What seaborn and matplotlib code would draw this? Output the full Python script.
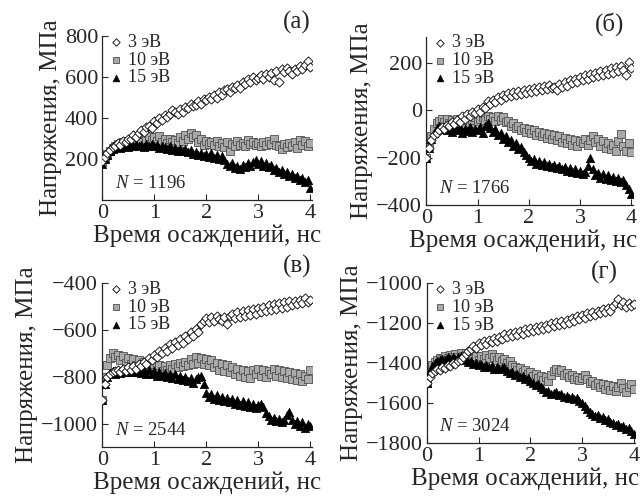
import numpy as np
import pandas as pd
import seaborn as sns
import matplotlib.pyplot as plt

# время осаждения, нс (шаг 0.05)
time_ns = [0.00, 0.05, 0.10, 0.15, 0.20, 0.25, 0.30, 0.35, 0.40, 0.45,
           0.50, 0.55, 0.60, 0.65, 0.70, 0.75, 0.80, 0.85, 0.90, 0.95,
           1.00, 1.05, 1.10, 1.15, 1.20, 1.25, 1.30, 1.35, 1.40, 1.45,
           1.50, 1.55, 1.60, 1.65, 1.70, 1.75, 1.80, 1.85, 1.90, 1.95,
           2.00, 2.05, 2.10, 2.15, 2.20, 2.25, 2.30, 2.35, 2.40, 2.45,
           2.50, 2.55, 2.60, 2.65, 2.70, 2.75, 2.80, 2.85, 2.90, 2.95,
           3.00, 3.05, 3.10, 3.15, 3.20, 3.25, 3.30, 3.35, 3.40, 3.45,
           3.50, 3.55, 3.60, 3.65, 3.70, 3.75, 3.80, 3.85, 3.90, 3.95,
           4.00]

# (а) N = 1196
a_3ev = [190, 210, 228, 245, 258, 262, 278, 270, 290, 285,
         300, 296, 315, 308, 325, 340, 330, 355, 362, 350,
         388, 375, 400, 392, 415, 405, 420, 440, 428, 418,
         445, 432, 455, 448, 470, 458, 465, 485, 470, 492,
         488, 505, 495, 512, 500, 525, 515, 535, 540, 528,
         552, 545, 560, 548, 575, 565, 590, 578, 600, 585,
         598, 610, 592, 615, 600, 620, 585, 630, 575, 640,
         625, 645, 630, 615, 640, 628, 655, 640, 660, 680,
         650]
a_10ev = [185, 205, 225, 240, 255, 262, 275, 268, 282, 276,
          288, 280, 295, 285, 305, 295, 320, 300, 310, 295,
          305, 290, 310, 285, 298, 280, 300, 285, 295, 278,
          305, 290, 315, 300, 325, 305, 315, 285, 300, 270,
          290, 275, 285, 268, 290, 265, 280, 260, 285, 240,
          275, 265, 290, 270, 280, 265, 295, 275, 285, 270,
          280, 265, 285, 270, 290, 275, 300, 270, 265, 250,
          275, 260, 280, 265, 285, 255, 295, 270, 290, 265,
          280]
a_15ev = [175, 200, 220, 240, 250, 258, 262, 255, 265, 270,
          258, 272, 265, 275, 262, 270, 258, 272, 265, 275,
          262, 270, 255, 265, 258, 250, 262, 245, 255, 240,
          250, 238, 248, 232, 242, 225, 235, 220, 230, 215,
          225, 210, 228, 205, 220, 200, 215, 195, 175, 165,
          180, 155, 168, 150, 172, 160, 178, 165, 185, 195,
          175, 188, 165, 180, 160, 170, 145, 155, 135, 145,
          125, 135, 115, 125, 105, 115, 95, 105, 85, 95,
          60]

# (б) N = 1766
b_3ev = [-200, -160, -125, -105, -95, -85, -70, -78, -60, -68,
         -50, -58, -40, -48, -25, -35, -15, -25, -5, -12,
         5, -8, 15, 10, 38, 25, 45, 35, 55, 42,
         65, 55, 72, 60, 78, 65, 82, 70, 88, 75,
         90, 78, 95, 82, 100, 85, 102, 90, 108, 95,
         100, 88, 112, 98, 120, 105, 128, 115, 135, 120,
         140, 128, 148, 135, 155, 140, 160, 145, 165, 150,
         172, 155, 178, 160, 185, 165, 190, 170, 150, 205,
         180]
b_10ev = [-200, -150, -110, -80, -55, -45, -35, -50, -38, -55,
          -40, -52, -38, -60, -45, -58, -40, -55, -42, -30,
          -45, -35, -28, -40, -25, -38, -30, -45, -25, -40,
          -30, -50, -45, -65, -55, -75, -65, -85, -75, -90,
          -80, -95, -85, -105, -90, -110, -95, -115, -100, -120,
          -105, -125, -110, -135, -115, -140, -120, -145, -125, -150,
          -130, -140, -120, -145, -125, -110, -135, -120, -150, -130,
          -160, -140, -165, -145, -170, -130, -100, -150, -170, -140,
          -175]
b_15ev = [-200, -160, -120, -95, -75, -65, -80, -70, -85, -72,
          -90, -75, -85, -70, -95, -78, -88, -72, -92, -78,
          -85, -70, -95, -65, -55, -75, -90, -80, -105, -95,
          -120, -110, -135, -125, -150, -140, -165, -155, -175, -190,
          -200, -215, -205, -225, -215, -230, -220, -235, -225, -240,
          -230, -245, -235, -250, -240, -255, -245, -260, -250, -265,
          -255, -270, -260, -235, -200, -250, -275, -265, -285, -270,
          -290, -275, -295, -280, -300, -285, -305, -295, -315, -335,
          -355]

# (в) N = 2544
c_3ev = [-900, -830, -800, -790, -780, -775, -770, -780, -765, -775,
         -760, -770, -755, -765, -745, -755, -735, -745, -720, -730,
         -705, -715, -690, -700, -675, -690, -660, -675, -650, -665,
         -640, -655, -625, -640, -610, -625, -595, -610, -575, -560,
         -550, -565, -545, -560, -540, -555, -560, -545, -575, -540,
         -530, -550, -525, -545, -520, -540, -515, -535, -510, -530,
         -505, -525, -500, -520, -495, -515, -490, -510, -485, -505,
         -480, -500, -478, -495, -475, -490, -470, -485, -465, -480,
         -470]
c_10ev = [-900, -800, -750, -720, -700, -715, -705, -730, -710, -740,
          -720, -745, -725, -750, -730, -755, -735, -760, -740, -765,
          -745, -770, -750, -775, -755, -770, -750, -765, -745, -760,
          -740, -755, -735, -750, -725, -745, -715, -740, -720, -745,
          -725, -750, -730, -760, -740, -770, -745, -775, -750, -780,
          -760, -790, -765, -795, -770, -800, -775, -805, -770, -790,
          -765, -795, -770, -800, -775, -790, -765, -795, -770, -800,
          -775, -805, -780, -810, -785, -815, -790, -820, -795, -810,
          -770]
c_15ev = [-900, -830, -800, -785, -775, -790, -770, -785, -765, -780,
          -760, -778, -762, -780, -765, -785, -770, -790, -772, -790,
          -775, -795, -780, -798, -785, -800, -788, -805, -790, -808,
          -795, -812, -800, -820, -805, -825, -810, -800, -795, -830,
          -870, -885, -875, -895, -880, -900, -885, -905, -890, -910,
          -895, -915, -900, -920, -905, -925, -910, -930, -915, -935,
          -920, -915, -930, -955, -970, -985, -975, -990, -980, -995,
          -985, -965, -950, -985, -1000, -990, -1010, -995, -1020, -1000,
          -1010]

# (г) N = 3024
d_3ev = [-1500, -1470, -1450, -1440, -1430, -1435, -1420, -1425, -1410, -1415,
         -1400, -1405, -1390, -1385, -1370, -1355, -1340, -1330, -1315, -1325,
         -1300, -1310, -1290, -1305, -1285, -1295, -1275, -1290, -1270, -1280,
         -1255, -1270, -1250, -1265, -1245, -1260, -1240, -1255, -1230, -1245,
         -1225, -1240, -1220, -1235, -1215, -1230, -1210, -1225, -1200, -1215,
         -1195, -1210, -1190, -1205, -1185, -1200, -1175, -1190, -1165, -1180,
         -1160, -1175, -1150, -1165, -1145, -1160, -1140, -1150, -1130, -1145,
         -1125, -1140, -1115, -1100, -1080, -1110, -1095, -1120, -1100, -1115,
         -1105]
d_10ev = [-1500, -1440, -1410, -1395, -1385, -1375, -1380, -1365, -1375, -1360,
          -1370, -1355, -1368, -1352, -1365, -1350, -1370, -1358, -1380, -1365,
          -1385, -1365, -1380, -1360, -1375, -1355, -1370, -1385, -1370, -1390,
          -1380, -1400, -1390, -1410, -1420, -1435, -1425, -1445, -1435, -1455,
          -1445, -1465, -1455, -1475, -1465, -1485, -1470, -1490, -1460, -1440,
          -1430, -1445, -1435, -1460, -1450, -1470, -1460, -1480, -1470, -1485,
          -1475, -1460, -1480, -1500, -1490, -1510, -1500, -1520, -1505, -1530,
          -1510, -1535, -1515, -1540, -1520, -1500, -1525, -1545, -1520, -1505,
          -1530]
d_15ev = [-1500, -1440, -1415, -1400, -1390, -1385, -1378, -1385, -1372, -1380,
          -1368, -1378, -1370, -1365, -1375, -1385, -1395, -1390, -1405, -1398,
          -1410, -1405, -1418, -1410, -1422, -1415, -1428, -1420, -1432, -1425,
          -1418, -1440, -1450, -1445, -1460, -1455, -1470, -1465, -1480, -1475,
          -1490, -1500, -1510, -1505, -1520, -1530, -1545, -1540, -1555, -1550,
          -1545, -1560, -1555, -1570, -1565, -1575, -1570, -1580, -1575, -1590,
          -1600, -1615, -1630, -1645, -1655, -1665, -1660, -1675, -1670, -1685,
          -1680, -1695, -1700, -1710, -1705, -1720, -1715, -1730, -1725, -1740,
          -1755]

panels = [
    ("(а)", "1196", a_3ev, a_10ev, a_15ev, (0, 800), [200, 400, 600, 800]),
    ("(б)", "1766", b_3ev, b_10ev, b_15ev, (-400, 310), [-400, -200, 0, 200]),
    ("(в)", "2544", c_3ev, c_10ev, c_15ev, (-1100, -400), [-1000, -800, -600, -400]),
    ("(г)", "3024", d_3ev, d_10ev, d_15ev, (-1800, -1000), [-1800, -1600, -1400, -1200, -1000]),
]
# положение осей в долях фигуры: left, bottom, width, height
boxes = [(0.159, 0.597, 0.326, 0.330), (0.663, 0.587, 0.321, 0.338),
         (0.159, 0.099, 0.326, 0.330), (0.664, 0.107, 0.324, 0.322)]
tag_pos = [(0.93, 1.085), (0.89, 1.08), (0.93, 1.10), (0.85, 1.07)]
xlabel_x = [0.5, 0.47, 0.5, 0.47]

sns.set_style("ticks")
plt.rcParams['font.family'] = ['Liberation Serif', 'DejaVu Serif']
plt.rcParams['mathtext.fontset'] = 'custom'
plt.rcParams['mathtext.it'] = 'Liberation Serif:italic'

fig = plt.figure(figsize=(6.43, 4.96), dpi=100)

for (tag, n, s3, s10, s15, ylim, yticks), box, tp, lx in zip(panels, boxes, tag_pos, xlabel_x):
    for s in (s3, s10, s15):
        assert len(s) == len(time_ns)
    ax = fig.add_axes(box)
    df = pd.DataFrame({"t": time_ns, "e3": s3, "e10": s10, "e15": s15})
    sns.scatterplot(data=df, x="t", y="e10", marker="s", s=32, color="#a9a9a9",
                    edgecolor="#505050", linewidth=0.6, label="10 эВ", ax=ax, zorder=2)
    sns.scatterplot(data=df, x="t", y="e15", marker="^", s=36, color="black",
                    edgecolor="black", linewidth=0.5, label="15 эВ", ax=ax, zorder=3)
    sns.scatterplot(data=df, x="t", y="e3", marker="D", s=22, color="white",
                    edgecolor="black", linewidth=0.6, label="3 эВ", ax=ax, zorder=4)
    ax.set_xlim(0, 4.03)
    ax.set_ylim(*ylim)
    ax.set_xticks([0, 1, 2, 3, 4])
    ax.set_yticks(yticks)
    ax.tick_params(direction="in", length=4, width=0.8, labelsize=16, pad=3)
    for side in ("top", "right"):
        ax.spines[side].set_visible(False)
    for side in ("left", "bottom"):
        ax.spines[side].set_linewidth(0.9)
    ax.set_xlabel("Время осаждений, нс", fontsize=18, labelpad=1)
    ax.xaxis.label.set_x(lx)
    ax.set_ylabel("Напряжения, МПа", fontsize=18, labelpad=2)
    h, l = ax.get_legend_handles_labels()
    order = [l.index("3 эВ"), l.index("10 эВ"), l.index("15 эВ")]
    ax.legend([h[i] for i in order], [l[i] for i in order], loc="upper left",
              bbox_to_anchor=(0.0, 1.06), frameon=False, fontsize=13,
              handlelength=0.7, handletextpad=0.3, labelspacing=0.05,
              borderpad=0.2, borderaxespad=0.2, markerscale=0.8)
    ax.text(0.06, 0.10, r"$\mathit{N}$ = " + n, transform=ax.transAxes,
            fontsize=13.5, va="center", ha="left")
    ax.text(tp[0], tp[1], tag, transform=ax.transAxes, fontsize=18,
            va="center", ha="center")

fig.savefig("out.png", dpi=100)
